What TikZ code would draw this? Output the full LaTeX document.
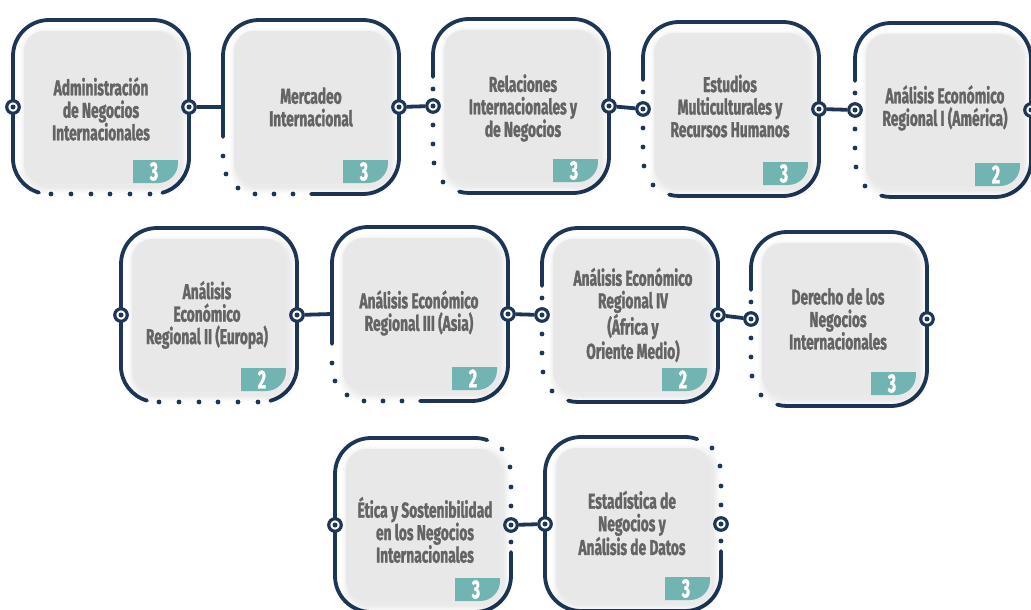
\documentclass[tikz,border=0pt]{standalone}
\usepackage{fontspec}
\newfontfamily\boxfont{Fira Sans}[FakeStretch=0.64, BoldFeatures={FakeBold=1.3}]
\newfontfamily\numfont{Fira Sans}[FakeStretch=0.6, BoldFeatures={FakeBold=1.6}]
\definecolor{navy}{HTML}{1D3658}
\definecolor{boxgrey}{HTML}{E8E8E8}
\definecolor{badgeteal}{HTML}{71B4B1}
\definecolor{txtgrey}{HTML}{646464}
\tikzset{
  frameline/.style={draw=navy, line width=3.8pt, line cap=round},
  port/.style={circle, draw=navy, line width=3.2pt, fill=white, minimum size=12.5pt, inner sep=0pt},
  link/.style={draw=navy, line width=3.8pt},
  labeltext/.style={font=\boxfont\bfseries\fontsize{21.5}{22.5}\selectfont, text=txtgrey, align=center, inner sep=0pt},
  badgenum/.style={font=\numfont\bfseries\fontsize{26}{26}\selectfont, text=white, inner sep=0pt},
}
% inner grey card: name, text, badge number, text x, text y (local)
\newcommand\innercard[5]{%
  \foreach \s in {1,...,7} {\fill[black, opacity=0.012, rounded corners=22pt] (14-\s,15-\s) rectangle (168+\s,167+\s);}
  \fill[boxgrey, rounded corners=20pt] (11,11) rectangle (165,163);
  \begin{scope}
    \clip[rounded corners=20pt] (11,11) rectangle (165,163);
    \fill[badgeteal] (120,140) rectangle (166,164);
  \end{scope}
  \node[badgenum] (#1n) at (141,151.5) {#3};
  \node[labeltext] (#1) at (#4,#5) {#2};
}
\newcommand\portnode[3]{%
  \node[port] (#1) at (#2,#3) {};
  \fill[navy] (#1.center) circle[radius=2.5];
}
% Type A: dotted bottom edge
\newcommand\cardA[7]{%
  \begin{scope}[shift={(#1,#2)}]
    \draw[frameline] (26,172.6) arc[start angle=106,end angle=180,radius=36] -- (0,36)
      arc[start angle=180,end angle=270,radius=36] -- (140,0)
      arc[start angle=270,end angle=360,radius=36] -- (176,138)
      arc[start angle=0,end angle=75,radius=36];
    \foreach \x in {38,58,78,97,117,137} \fill[navy] (\x,174) circle[radius=2.4];
    \innercard{#3}{#4}{#5}{#6}{#7}
    \portnode{#3L}{0}{87}
    \portnode{#3R}{176}{87}
  \end{scope}}
% Type B: dotted lower-left corner, left edge entry
\newcommand\cardB[7]{%
  \begin{scope}[shift={(#1,#2)}]
    \draw[frameline] (0,117) -- (0,36)
      arc[start angle=180,end angle=270,radius=36] -- (140,0)
      arc[start angle=270,end angle=360,radius=36] -- (176,138)
      arc[start angle=0,end angle=90,radius=36] -- (88,174);
    \foreach \p in {(0,136),(3,154),(15,168),(32,174),(51,174),(70,174)} \fill[navy] \p circle[radius=2.4];
    \innercard{#3}{#4}{#5}{#6}{#7}
    \coordinate (#3L) at (0,87);
    \portnode{#3R}{176}{87}
  \end{scope}}
% Type C: dotted lower-left side
\newcommand\cardC[7]{%
  \begin{scope}[shift={(#1,#2)}]
    \draw[frameline] (0,58) -- (0,36)
      arc[start angle=180,end angle=270,radius=36] -- (140,0)
      arc[start angle=270,end angle=360,radius=36] -- (176,138)
      arc[start angle=0,end angle=90,radius=36] -- (36,174)
      arc[start angle=90,end angle=106,radius=36];
    \foreach \p in {(0,70),(0,106),(0,125),(1,144),(10,163)} \fill[navy] \p circle[radius=2.4];
    \innercard{#3}{#4}{#5}{#6}{#7}
    \portnode{#3L}{0}{87}
    \portnode{#3R}{176}{87}
  \end{scope}}
% Type D: dotted upper-right side
\newcommand\cardD[7]{%
  \begin{scope}[shift={(#1,#2)}]
    \draw[frameline] (176,114) -- (176,138)
      arc[start angle=0,end angle=90,radius=36] -- (36,174)
      arc[start angle=90,end angle=180,radius=36] -- (0,36)
      arc[start angle=180,end angle=270,radius=36] -- (140,0)
      arc[start angle=270,end angle=290,radius=36];
    \foreach \p in {(167,11),(175,29),(176,49),(176,68),(176,104)} \fill[navy] \p circle[radius=2.4];
    \innercard{#3}{#4}{#5}{#6}{#7}
    \portnode{#3L}{0}{87}
    \portnode{#3R}{176}{87}
  \end{scope}}
\begin{document}
\begin{tikzpicture}[x=1pt,y=-1pt]
\fill[white] (0,0) rectangle (1031,610);
\useasboundingbox (0,0) rectangle (1031,610);
% row 1
\cardA{13}{20}{b1}{Administración\\de Negocios\\Internacionales}{3}{88}{89}
\cardB{223}{20}{b2}{Mercadeo\\Internacional}{3}{88}{87}
\cardC{433}{19}{b3}{Relaciones\\Internacionales y\\de Negocios}{3}{90}{89}
\cardC{643}{22}{b4}{Estudios\\Multiculturales y\\Recursos Humanos}{3}{87}{84}
\cardC{855}{23}{b5}{Análisis Económico\\Regional I (América)}{2}{90}{85}
% row 2
\cardA{121}{228}{b6}{Análisis\\Económico\\Regional II (Europa)}{2}{86}{87}
\cardB{332}{227}{b7}{Análisis Económico\\Regional III (Asia)}{2}{87}{86}
\cardC{542}{228}{b8}{Análisis Económico\\Regional IV\\(África y\\Oriente Medio)}{2}{91}{87}
\cardC{751}{232}{b9}{Derecho de los\\Negocios\\Internacionales}{3}{87}{87}
% row 3
\cardD{335}{438}{b10}{Ética y Sostenibilidad\\en los Negocios\\Internacionales}{3}{90}{92}
\cardD{545}{437}{b11}{Estadística de\\Negocios y\\Análisis de Datos}{3}{87}{86}
% connectors
\draw[link] (b1R) -- (b2L);
\draw[link] (b2R) -- (b3L);
\draw[link] (b3R) -- (b4L);
\draw[link] (b4R) -- (b5L);
\draw[link] (b6R) -- (b7L);
\draw[link] (b7R) -- (b8L);
\draw[link] (b8R) -- (b9L);
\draw[link] (b10R) -- (b11L);
\end{tikzpicture}
\end{document}
